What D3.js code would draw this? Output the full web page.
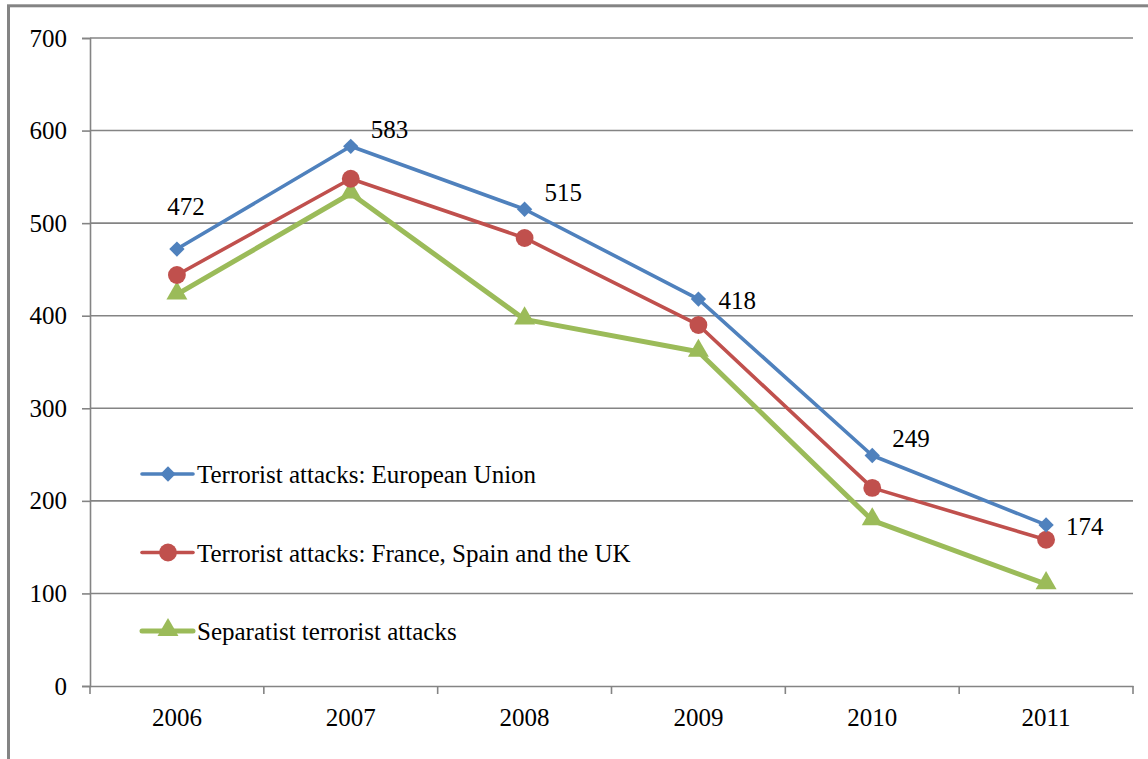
<!DOCTYPE html>
<html>
<head>
<meta charset="utf-8">
<script src="https://cdn.jsdelivr.net/npm/d3@7"></script>
<style>
  body { margin: 0; background: #fff; }
  svg text { font-family: 'Liberation Serif', 'Times New Roman', serif; fill: #000; }
</style>
</head>
<body>
<div id="chart-area"></div>
<script>
// data
var years = ["2006", "2007", "2008", "2009", "2010", "2011"];
var euAttacks = [472, 583, 515, 418, 249, 174];
var fsukAttacks = [444, 548, 484, 390, 214, 158];
var separatistAttacks = [423, 532, 396, 361, 179, 110];
var yTicks = [0, 100, 200, 300, 400, 500, 600, 700];
var seriesNames = [
    "Terrorist attacks: European Union",
    "Terrorist attacks: France, Spain and the UK",
    "Separatist terrorist attacks"
];
// where each EU value label sits relative to its point
var labelSpots = ["above", "right-up", "right-up", "right-down", "right-up", "right-down"];

var margin = { left: 90, right: 15, top: 38, bottom: 73 };
var width = 1148 - margin.left - margin.right;
var height = 759 - margin.top - margin.bottom;
var grey = "#848484";
var serif = "'Liberation Serif', 'Times New Roman', serif";

var svg = d3.select("#chart-area").append("svg")
    .attr("width", 1148)
    .attr("height", 759)
    .style("font-family", serif);

// outer frame (cut off on right and bottom)
svg.append("rect")
    .attr("x", 8.5).attr("y", 5.8)
    .attr("width", 1200).attr("height", 800)
    .attr("fill", "none")
    .attr("stroke", grey)
    .attr("stroke-width", 3);

var g = svg.append("g")
    .attr("transform", "translate(" + margin.left + ", " + margin.top + ")");

var x = d3.scaleBand()
    .domain(years)
    .range([0, width]);

var y = d3.scaleLinear()
    .domain([0, 700])
    .range([height, 0]);

// gridlines
g.selectAll(".grid")
    .data(yTicks.slice(1))
    .enter().append("line")
    .attr("class", "grid")
    .attr("x1", 0).attr("x2", width)
    .attr("y1", (d) => y(d)).attr("y2", (d) => y(d))
    .attr("stroke", grey)
    .attr("stroke-width", 1.6);

// left axis
var leftAxis = d3.axisLeft(y).tickValues(yTicks).tickSize(8).tickPadding(15);
var ly = g.append("g").attr("class", "left axis").call(leftAxis)
    .attr("font-family", null);
ly.select(".domain").attr("stroke", grey).attr("stroke-width", 1.6);
ly.selectAll(".tick line").attr("stroke", grey).attr("stroke-width", 1.6);
ly.selectAll("text").attr("font-size", "25px").style("font-family", serif);

// bottom axis: ticks between categories
var bottomAxis = d3.axisBottom(x).tickSize(0).tickPadding(22);
var bx = g.append("g")
    .attr("class", "bottom axis")
    .attr("transform", "translate(0, " + height + ")")
    .call(bottomAxis)
    .attr("font-family", null);
bx.select(".domain").attr("stroke", grey).attr("stroke-width", 1.6);
bx.selectAll("text").attr("font-size", "25px").style("font-family", serif);
var bounds = years.map((d) => x(d)).concat([width]);
bx.selectAll(".bound")
    .data(bounds)
    .enter().append("line")
    .attr("class", "bound")
    .attr("x1", (d) => d).attr("x2", (d) => d)
    .attr("y1", 0).attr("y2", 8)
    .attr("stroke", grey)
    .attr("stroke-width", 1.6);

var cx = (i) => x(years[i]) + x.bandwidth() / 2;

var series = [
    { name: seriesNames[0], values: euAttacks, color: "#4F81BD", marker: "diamond", lw: 3.6 },
    { name: seriesNames[1], values: fsukAttacks, color: "#C0504D", marker: "circle", lw: 3.6 },
    { name: seriesNames[2], values: separatistAttacks, color: "#9BBB59", marker: "triangle", lw: 5 }
];

var symbolFor = {
    diamond: d3.symbol().type(d3.symbolDiamond2).size(150),
    circle: d3.symbol().type(d3.symbolCircle).size(250),
    triangle: d3.symbol().type(d3.symbolTriangle).size(190)
};

var line = d3.line()
    .x((d, i) => cx(i))
    .y((d) => y(d));

// draw in reverse so blue sits on top
series.slice().reverse().forEach((s) => {
    g.append("path")
        .datum(s.values)
        .attr("d", line)
        .attr("fill", "none")
        .attr("stroke", s.color)
        .attr("stroke-width", s.lw)
        .attr("stroke-linejoin", "round");
    g.selectAll(".m-" + s.marker)
        .data(s.values)
        .enter().append("path")
        .attr("class", "m-" + s.marker)
        .attr("d", symbolFor[s.marker])
        .attr("transform", (d, i) => {
            var dy = s.marker == "triangle" ? -1 : 0;
            return "translate(" + cx(i) + "," + (y(d) + dy) + ")";
        })
        .attr("fill", s.color);
});

// value labels for EU series
g.selectAll(".vlabel")
    .data(euAttacks)
    .enter().append("text")
    .attr("class", "vlabel")
    .attr("font-size", "25px")
    .style("font-family", serif)
    .attr("x", (d, i) => labelSpots[i] == "above" ? cx(i) + 9 : cx(i) + 20)
    .attr("y", (d, i) => {
        if (labelSpots[i] == "above") return y(d) - 34;
        if (labelSpots[i] == "right-up") return y(d) - 8;
        return y(d) + 10;
    })
    .attr("text-anchor", (d, i) => labelSpots[i] == "above" ? "middle" : "start")
    .text((d) => d);

// legend
var legend = g.append("g").attr("class", "legend");
series.forEach((s, i) => {
    var ly0 = 436 + i * 78.5;
    var row = legend.append("g").attr("transform", "translate(52, " + ly0 + ")");
    row.append("line")
        .attr("x1", 0).attr("x2", 51)
        .attr("y1", 0).attr("y2", 0)
        .attr("stroke", s.color)
        .attr("stroke-width", s.lw)
        .attr("stroke-linecap", "round");
    row.append("path")
        .attr("d", symbolFor[s.marker])
        .attr("transform", "translate(26, " + (s.marker == "triangle" ? -1 : 0) + ")")
        .attr("fill", s.color);
    row.append("text")
        .attr("x", 55)
        .attr("y", 9)
        .attr("font-size", "25px")
        .style("font-family", serif)
        .text(s.name);
});
</script>
</body>
</html>
